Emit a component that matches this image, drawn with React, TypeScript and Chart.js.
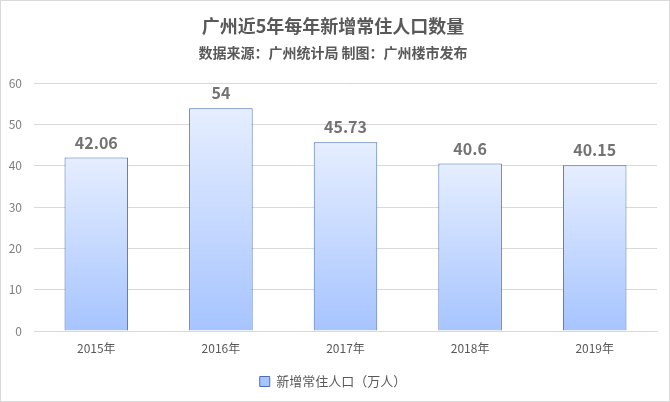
import React, { useEffect, useRef } from "react";
import { Chart, registerables } from "chart.js";

Chart.register(...registerables);

const categories = ["2015年", "2016年", "2017年", "2018年", "2019年"];
const values = [42.06, 54, 45.73, 40.6, 40.15];
const seriesName = "新增常住人口（万人）";
const titleText = "广州近5年每年新增常住人口数量";
const subtitleText = "数据来源：广州统计局 制图：广州楼市发布";

const FONT = "'Noto Sans CJK SC', 'Noto Sans', sans-serif";

const valueLabels = {
  id: "valueLabels",
  afterDatasetsDraw(chart: any) {
    const ctx = chart.ctx;
    const meta = chart.getDatasetMeta(0);
    ctx.save();
    ctx.font = `bold 16px ${FONT}`;
    ctx.fillStyle = "#737373";
    ctx.textAlign = "center";
    ctx.textBaseline = "middle";
    meta.data.forEach((el: any, i: number) => {
      ctx.fillText(String(values[i]), el.x, el.y - 15);
    });
    ctx.restore();
  },
};

export default function App() {
  const ref = useRef<HTMLCanvasElement | null>(null);
  useEffect(() => {
    document.body.style.margin = "0";
    const canvas = ref.current!;
    const chart = new Chart(canvas, {
      type: "bar",
      data: {
        labels: categories,
        datasets: [
          {
            label: seriesName,
            data: values,
            backgroundColor: (c: any) => {
              const ch = c.chart;
              const ys = ch.scales && ch.scales.y;
              if (!ch.chartArea || !ys || c.dataIndex === undefined || c.parsed === undefined) {
                return "#c7d9ff";
              }
              const top = ys.getPixelForValue(c.parsed.y);
              const bottom = ys.getPixelForValue(0);
              if (!isFinite(top) || !isFinite(bottom) || top === bottom) return "#c7d9ff";
              const g = ch.ctx.createLinearGradient(0, top, 0, bottom);
              g.addColorStop(0, "#e6eeff");
              g.addColorStop(1, "#a6c4ff");
              return g;
            },
            borderColor: "#4a6fb0",
            borderWidth: 1,
            barPercentage: 0.51,
            categoryPercentage: 1,
          },
        ],
      },
      options: {
        responsive: false,
        animation: false,
        maintainAspectRatio: false,
        layout: { padding: { left: 8, right: 12, top: 0, bottom: 3 } },
        plugins: {
          title: {
            display: true,
            text: titleText,
            color: "#595959",
            font: { family: FONT, size: 18, weight: "bold" },
            padding: { top: 14, bottom: 8 },
          },
          subtitle: {
            display: true,
            text: subtitleText,
            color: "#595959",
            font: { family: FONT, size: 14, weight: "bold" },
            padding: { top: 0, bottom: 22 },
          },
          legend: {
            position: "bottom",
            labels: {
              color: "#595959",
              font: { family: FONT, size: 13 },
              boxWidth: 10,
              boxHeight: 10,
              padding: 11,
            },
          },
          tooltip: { enabled: false },
        },
        scales: {
          x: {
            grid: { display: false },
            border: { color: "#d9d9d9" },
            afterFit: (scale: any) => {
              scale.height = 33;
            },
            ticks: { color: "#595959", font: { family: FONT, size: 12 }, padding: 2 },
          },
          y: {
            min: 0,
            max: 60,
            afterFit: (scale: any) => {
              scale.width = 25;
            },
            ticks: {
              stepSize: 10,
              color: "#7f7f7f",
              font: { family: FONT, size: 12 },
              padding: 12,
            },
            grid: { color: "#d9d9d9", drawTicks: false },
            border: { display: false },
          },
        },
      },
      plugins: [valueLabels],
    });
    return () => chart.destroy();
  }, []);
  return (
    <div
      style={{
        position: "absolute",
        left: 0,
        top: 0,
        width: 670,
        height: 402,
        boxSizing: "border-box",
        border: "1px solid #d9d9d9",
        background: "#fff",
      }}
    >
      <canvas ref={ref} width={668} height={400} style={{ display: "block" }} />
    </div>
  );
}
